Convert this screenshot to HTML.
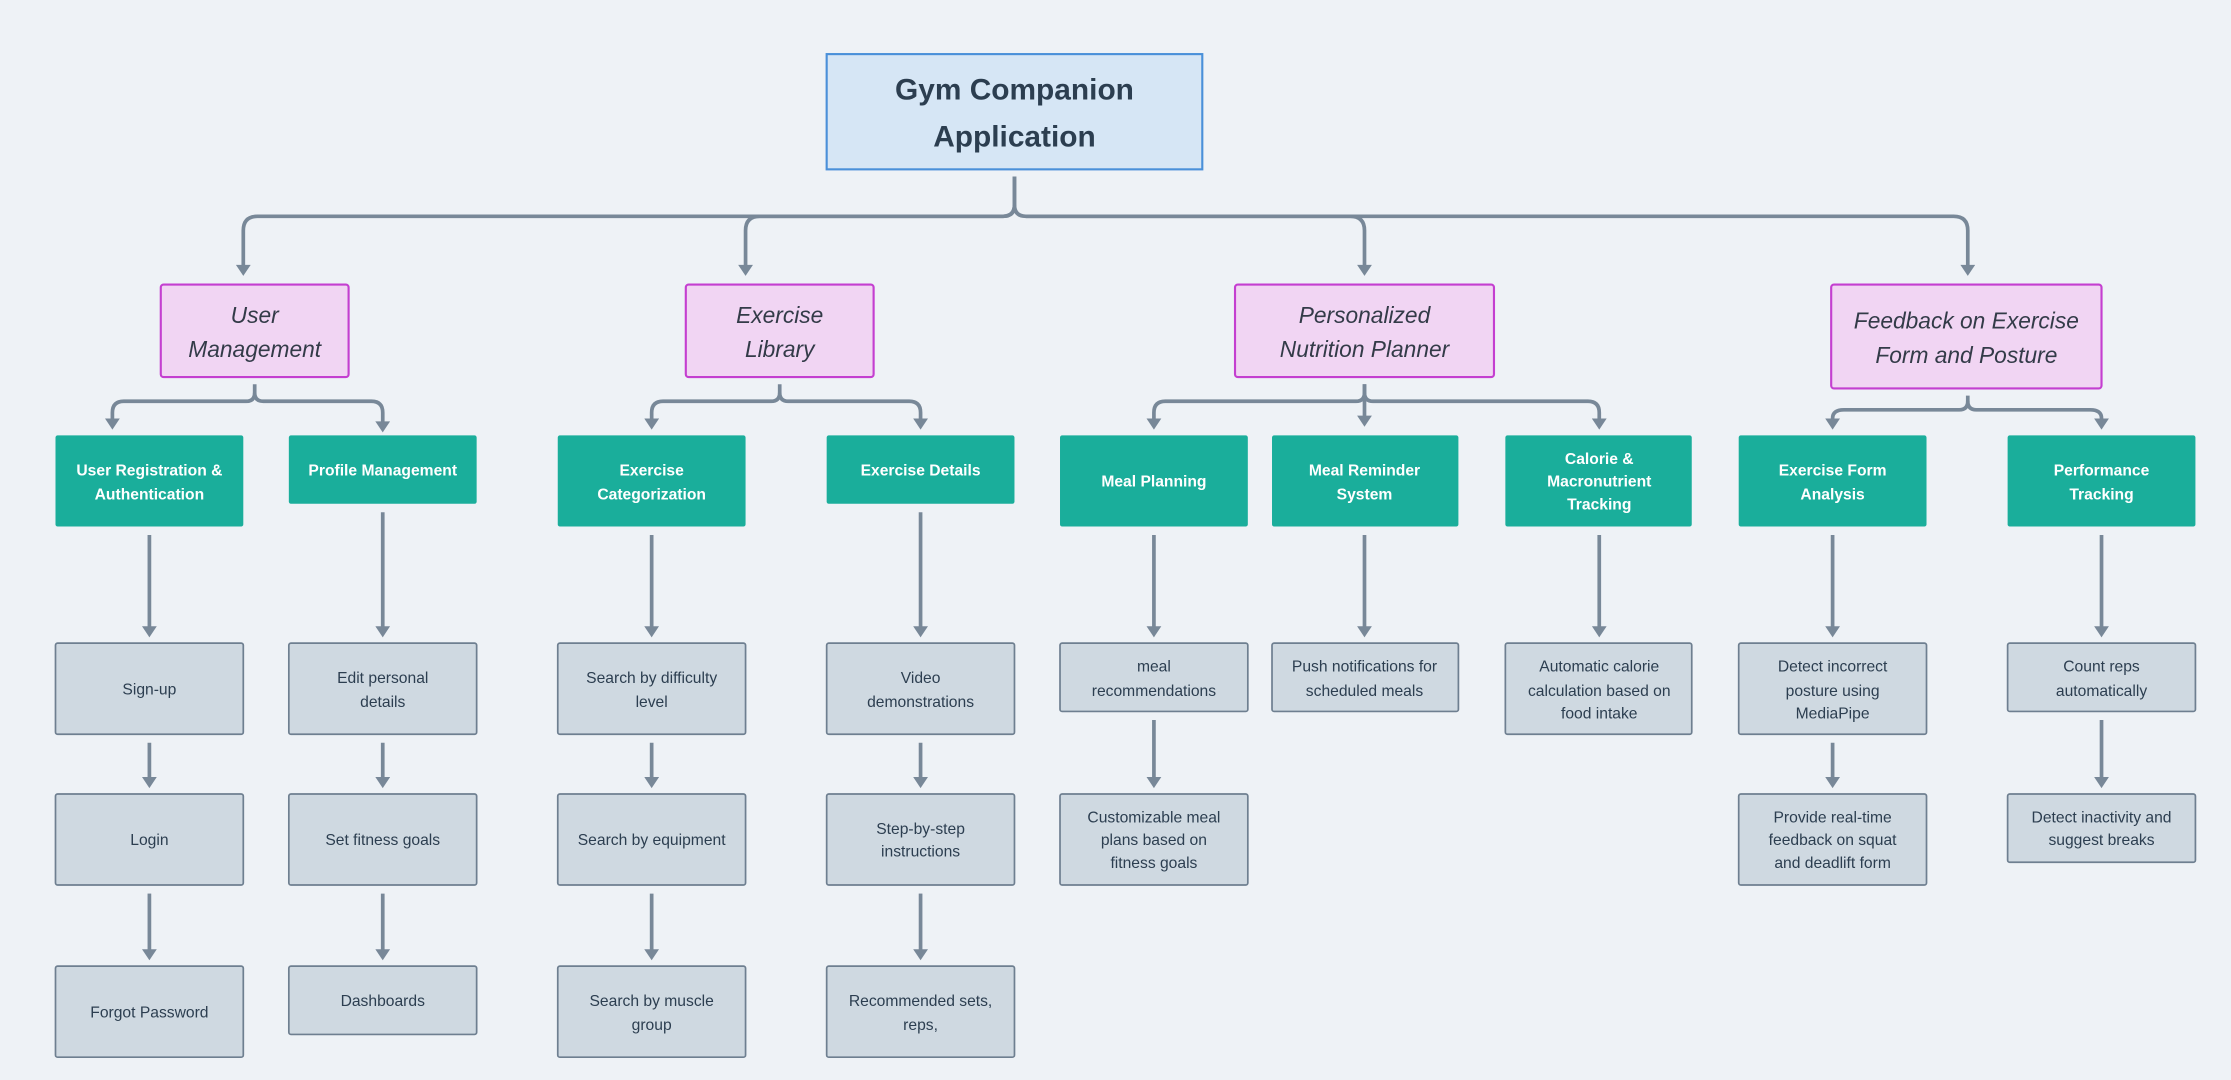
<!DOCTYPE html>
<html><head><meta charset="utf-8"><style>
html,body{margin:0;padding:0;background:#eef2f6;}
svg{display:block;}
text{font-family:"Liberation Sans","DejaVu Sans",sans-serif;text-anchor:middle;}
.g{fill:#cfd9e1;stroke:#6e7f90;stroke-width:1.2;}
.t{fill:#1aae9b;}
.p{fill:#f1d5f3;stroke:#c43fd0;stroke-width:1.5;}
.gt{font-size:11px;fill:#2c3e50;}
.tt{font-size:11px;fill:#fff;font-weight:bold;}
.pt{font-size:16px;fill:#333b48;font-style:italic;}
.ln{fill:none;stroke:#788898;stroke-width:2.6;}
</style></head><body>
<svg width="2231" height="1080" viewBox="0 0 1568 759" xmlns="http://www.w3.org/2000/svg">
<defs><marker id="a" markerWidth="4" markerHeight="4" refX="2" refY="2" orient="auto" markerUnits="strokeWidth"><path d="M0.5,0 L3.5,2 L0.5,4 Z" fill="#788898"/></marker></defs>
<rect width="1568" height="759" fill="#eef2f6"/>
<rect x="581" y="38" width="264" height="81" fill="#d6e6f5" stroke="#4a90d9" stroke-width="1.5"/>
<text x="713" y="70" font-size="21" font-weight="bold" fill="#2c3e50">Gym Companion</text>
<text x="713" y="103" font-size="21" font-weight="bold" fill="#2c3e50">Application</text>
<g class="ln">
<path d="M713,124 V144 Q713,152 705,152 H181 Q171,152 171,162 V190" marker-end="url(#a)"/>
<path d="M713,144 Q713,152 705,152 H534 Q524,152 524,162 V190" marker-end="url(#a)"/>
<path d="M713,124 V144 Q713,152 721,152 H949 Q959,152 959,162 V190" marker-end="url(#a)"/>
<path d="M721,152 H1373 Q1383,152 1383,162 V190" marker-end="url(#a)"/>
</g>
<rect class="p" x="113" y="200" width="132" height="65" rx="2"/>
<text class="pt" x="179" y="227">User</text><text class="pt" x="179" y="251">Management</text>
<rect class="p" x="482" y="200" width="132" height="65" rx="2"/>
<text class="pt" x="548" y="227">Exercise</text><text class="pt" x="548" y="251">Library</text>
<rect class="p" x="868" y="200" width="182" height="65" rx="2"/>
<text class="pt" x="959" y="227">Personalized</text><text class="pt" x="959" y="251">Nutrition Planner</text>
<rect class="p" x="1287" y="200" width="190" height="73" rx="2"/>
<text class="pt" x="1382" y="231">Feedback on Exercise</text><text class="pt" x="1382" y="255">Form and Posture</text>
<g class="ln">
<path d="M179,270 V276 Q179,282 173,282 H87 Q79,282 79,290 V298" marker-end="url(#a)"/>
<path d="M179,276 Q179,282 185,282 H261 Q269,282 269,290 V300" marker-end="url(#a)"/>
<path d="M548,270 V276 Q548,282 542,282 H466 Q458,282 458,290 V298" marker-end="url(#a)"/>
<path d="M548,276 Q548,282 554,282 H639 Q647,282 647,290 V298" marker-end="url(#a)"/>
<path d="M959,270 V276 Q959,282 953,282 H819 Q811,282 811,290 V298" marker-end="url(#a)"/>
<path d="M959,270 V296" marker-end="url(#a)"/>
<path d="M959,276 Q959,282 965,282 H1116 Q1124,282 1124,290 V298" marker-end="url(#a)"/>
<path d="M1383,278 V282 Q1383,288 1377,288 H1296 Q1288,288 1288,294 V298" marker-end="url(#a)"/>
<path d="M1383,282 Q1383,288 1389,288 H1469 Q1477,288 1477,294 V298" marker-end="url(#a)"/>
</g>
<g>
<rect class="t" x="39" y="306" width="132" height="64" rx="1.5"/><text class="tt" x="105" y="334">User Registration &amp;</text><text class="tt" x="105" y="351">Authentication</text>
<rect class="t" x="203" y="306" width="132" height="48" rx="1.5"/><text class="tt" x="269" y="334">Profile Management</text>
<rect class="t" x="392" y="306" width="132" height="64" rx="1.5"/><text class="tt" x="458" y="334">Exercise</text><text class="tt" x="458" y="351">Categorization</text>
<rect class="t" x="581" y="306" width="132" height="48" rx="1.5"/><text class="tt" x="647" y="334">Exercise Details</text>
<rect class="t" x="745" y="306" width="132" height="64" rx="1.5"/><text class="tt" x="811" y="342">Meal Planning</text>
<rect class="t" x="894" y="306" width="131" height="64" rx="1.5"/><text class="tt" x="959" y="334">Meal Reminder</text><text class="tt" x="959" y="351">System</text>
<rect class="t" x="1058" y="306" width="131" height="64" rx="1.5"/><text class="tt" x="1124" y="326">Calorie &amp;</text><text class="tt" x="1124" y="342">Macronutrient</text><text class="tt" x="1124" y="358">Tracking</text>
<rect class="t" x="1222" y="306" width="132" height="64" rx="1.5"/><text class="tt" x="1288" y="334">Exercise Form</text><text class="tt" x="1288" y="351">Analysis</text>
<rect class="t" x="1411" y="306" width="132" height="64" rx="1.5"/><text class="tt" x="1477" y="334">Performance</text><text class="tt" x="1477" y="351">Tracking</text>
</g>
<g class="ln">
<path d="M105,376 V444" marker-end="url(#a)"/><path d="M105,522 V550" marker-end="url(#a)"/><path d="M105,628 V671" marker-end="url(#a)"/>
<path d="M269,360 V444" marker-end="url(#a)"/><path d="M269,522 V550" marker-end="url(#a)"/><path d="M269,628 V671" marker-end="url(#a)"/>
<path d="M458,376 V444" marker-end="url(#a)"/><path d="M458,522 V550" marker-end="url(#a)"/><path d="M458,628 V671" marker-end="url(#a)"/>
<path d="M647,360 V444" marker-end="url(#a)"/><path d="M647,522 V550" marker-end="url(#a)"/><path d="M647,628 V671" marker-end="url(#a)"/>
<path d="M811,376 V444" marker-end="url(#a)"/><path d="M811,506 V550" marker-end="url(#a)"/>
<path d="M959,376 V444" marker-end="url(#a)"/>
<path d="M1124,376 V444" marker-end="url(#a)"/>
<path d="M1288,376 V444" marker-end="url(#a)"/><path d="M1288,522 V550" marker-end="url(#a)"/>
<path d="M1477,376 V444" marker-end="url(#a)"/><path d="M1477,506 V550" marker-end="url(#a)"/>
</g>
<g>
<rect class="g" x="39" y="452" width="132" height="64" rx="1.5"/><text class="gt" x="105" y="488">Sign-up</text>
<rect class="g" x="39" y="558" width="132" height="64" rx="1.5"/><text class="gt" x="105" y="594">Login</text>
<rect class="g" x="39" y="679" width="132" height="64" rx="1.5"/><text class="gt" x="105" y="715">Forgot Password</text>
<rect class="g" x="203" y="452" width="132" height="64" rx="1.5"/><text class="gt" x="269" y="480">Edit personal</text><text class="gt" x="269" y="497">details</text>
<rect class="g" x="203" y="558" width="132" height="64" rx="1.5"/><text class="gt" x="269" y="594">Set fitness goals</text>
<rect class="g" x="203" y="679" width="132" height="48" rx="1.5"/><text class="gt" x="269" y="707">Dashboards</text>
<rect class="g" x="392" y="452" width="132" height="64" rx="1.5"/><text class="gt" x="458" y="480">Search by difficulty</text><text class="gt" x="458" y="497">level</text>
<rect class="g" x="392" y="558" width="132" height="64" rx="1.5"/><text class="gt" x="458" y="594">Search by equipment</text>
<rect class="g" x="392" y="679" width="132" height="64" rx="1.5"/><text class="gt" x="458" y="707">Search by muscle</text><text class="gt" x="458" y="724">group</text>
<rect class="g" x="581" y="452" width="132" height="64" rx="1.5"/><text class="gt" x="647" y="480">Video</text><text class="gt" x="647" y="497">demonstrations</text>
<rect class="g" x="581" y="558" width="132" height="64" rx="1.5"/><text class="gt" x="647" y="586">Step-by-step</text><text class="gt" x="647" y="602">instructions</text>
<rect class="g" x="581" y="679" width="132" height="64" rx="1.5"/><text class="gt" x="647" y="707">Recommended sets,</text><text class="gt" x="647" y="724">reps,</text>
<rect class="g" x="745" y="452" width="132" height="48" rx="1.5"/><text class="gt" x="811" y="472">meal</text><text class="gt" x="811" y="489">recommendations</text>
<rect class="g" x="745" y="558" width="132" height="64" rx="1.5"/><text class="gt" x="811" y="578">Customizable meal</text><text class="gt" x="811" y="594">plans based on</text><text class="gt" x="811" y="610">fitness goals</text>
<rect class="g" x="894" y="452" width="131" height="48" rx="1.5"/><text class="gt" x="959" y="472">Push notifications for</text><text class="gt" x="959" y="489">scheduled meals</text>
<rect class="g" x="1058" y="452" width="131" height="64" rx="1.5"/><text class="gt" x="1124" y="472">Automatic calorie</text><text class="gt" x="1124" y="489">calculation based on</text><text class="gt" x="1124" y="505">food intake</text>
<rect class="g" x="1222" y="452" width="132" height="64" rx="1.5"/><text class="gt" x="1288" y="472">Detect incorrect</text><text class="gt" x="1288" y="489">posture using</text><text class="gt" x="1288" y="505">MediaPipe</text>
<rect class="g" x="1222" y="558" width="132" height="64" rx="1.5"/><text class="gt" x="1288" y="578">Provide real-time</text><text class="gt" x="1288" y="594">feedback on squat</text><text class="gt" x="1288" y="610">and deadlift form</text>
<rect class="g" x="1411" y="452" width="132" height="48" rx="1.5"/><text class="gt" x="1477" y="472">Count reps</text><text class="gt" x="1477" y="489">automatically</text>
<rect class="g" x="1411" y="558" width="132" height="48" rx="1.5"/><text class="gt" x="1477" y="578">Detect inactivity and</text><text class="gt" x="1477" y="594">suggest breaks</text>
</g>
</svg>
</body></html>
